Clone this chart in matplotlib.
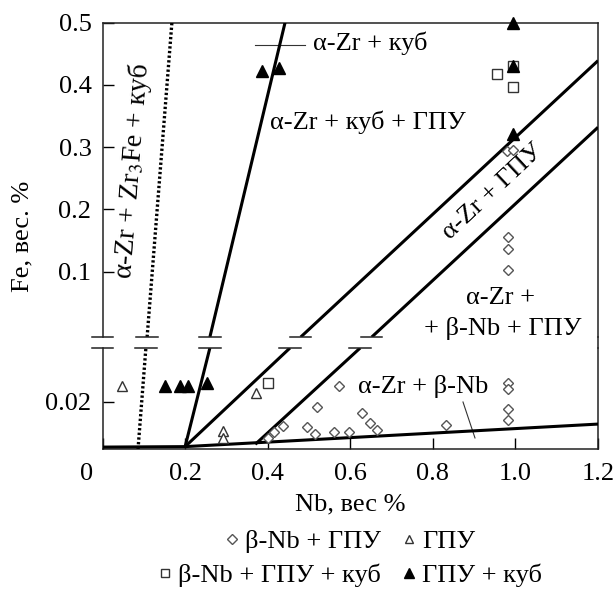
import matplotlib
matplotlib.use("Agg")
import matplotlib.pyplot as plt
from matplotlib.lines import Line2D
from matplotlib.transforms import ScaledTranslation

plt.rcParams['font.family'] = ['Liberation Serif', 'DejaVu Serif']
plt.rcParams['mathtext.fontset'] = 'stix'

# ---- data (Nb, Fe wt.%) ----
# upper part of the broken axis
tri_fill_up_x = [0.386, 0.427, 0.995, 0.995, 0.995]
tri_fill_up_y = [0.423, 0.427, 0.5, 0.431, 0.321]
sq_up_x = [0.955, 0.995, 0.995]
sq_up_y = [0.418, 0.431, 0.397]
dia_up_x = [0.98, 0.994, 0.982, 0.982, 0.982]
dia_up_y = [0.294, 0.295, 0.155, 0.137, 0.103]

# lower part
tri_open_lo_x = [0.047, 0.372, 0.292, 0.292]
tri_open_lo_y = [0.027, 0.024, 0.0077, 0.0047]
tri_fill_lo_x = [0.151, 0.188, 0.208, 0.254]
tri_fill_lo_y = [0.027, 0.027, 0.027, 0.028]
sq_lo_x = [0.401]
sq_lo_y = [0.028]
dia_lo_x = [0.4, 0.415, 0.437, 0.495, 0.514, 0.52, 0.56, 0.573, 0.597,
            0.628, 0.648, 0.664, 0.832, 0.982, 0.982, 0.982, 0.982]
dia_lo_y = [0.0047, 0.0072, 0.0098, 0.0094, 0.0064, 0.0179, 0.0072, 0.027,
            0.0072, 0.0153, 0.011, 0.0081, 0.0102, 0.0281, 0.0255, 0.017, 0.0123]

# phase boundaries
dotted_lo = ([0.086, 0.105], [0.0, 0.043])
line1_lo = ([0.2, 0.26], [0.001, 0.043])
line2_lo = ([0.2, 0.454], [0.001, 0.043])
line3_lo = ([0.37, 0.624], [0.002, 0.043])
solvus = ([0.0, 0.2, 1.2], [0.0008, 0.001, 0.0106])

dotted_up = ([0.108, 0.168], [-0.005, 0.5])
line1_up = ([0.26, 0.442], [-0.005, 0.5])
line2_up = ([0.48, 1.2], [-0.005, 0.439])
line3_up = ([0.652, 1.2], [-0.005, 0.332])

x_ticks = [0, 0.2, 0.4, 0.6, 0.8, 1.0, 1.2]
x_labels = ['0', '0.2', '0.4', '0.6', '0.8', '1.0', '1.2']
y_up_ticks = [0.1, 0.2, 0.3, 0.4, 0.5]
y_lo_ticks = [0.02]

FS = 19
fig = plt.figure(figsize=(6.15, 5.92), dpi=100)
L, R = 0.1667, 0.9724
ax_up = fig.add_axes([L, 0.4307, R - L, 0.9617 - 0.4307])
ax_lo = fig.add_axes([L, 0.2416, R - L, 0.4122 - 0.2416])

ax_up.set_xlim(0, 1.2)
ax_up.set_ylim(-0.005, 0.5)
ax_lo.set_xlim(0, 1.2)
ax_lo.set_ylim(0, 0.043)

for ax in (ax_up, ax_lo):
    for s in ax.spines.values():
        s.set_linewidth(1.1)
        s.set_color('#222222')
    ax.tick_params(direction='in', length=8, width=1.0, labelsize=FS)
    ax.tick_params(axis='y', pad=8)
    ax.tick_params(axis='x', pad=10)
ax_up.spines['bottom'].set_visible(False)
ax_lo.spines['top'].set_visible(False)
ax_up.set_xticks([])
ax_up.set_yticks(y_up_ticks)
ax_up.set_yticklabels([str(v) for v in y_up_ticks])
ax_lo.set_yticks(y_lo_ticks)
ax_lo.set_yticklabels(['0.02'])
ax_lo.set_xticks(x_ticks)
ax_lo.set_xticklabels(x_labels)
# the "0" sits a bit left of the origin in the original
lab0 = ax_lo.get_xticklabels()[0]
lab0.set_transform(lab0.get_transform() + ScaledTranslation(-0.16, 0, fig.dpi_scale_trans))

# right spine continues across the break
fig.add_artist(Line2D([R, R], [0.4122, 0.4307], color='#222222', lw=1.1))

# boundaries
LW = 2.2
for ax, segs, dots in ((ax_lo, [line1_lo, line2_lo, line3_lo, solvus], dotted_lo),
                       (ax_up, [line1_up, line2_up, line3_up], dotted_up)):
    for xs, ys in segs:
        ax.plot(xs, ys, color='black', lw=LW, solid_capstyle='butt', zorder=3)
    ax.plot(dots[0], dots[1], color='black', lw=2.4, dashes=(0.7, 0.7), zorder=3)

# break marks where the lines cross the gap
half = 0.026
for ax, segs, yb in ((ax_up, [([0, 0], [0, 0]), dotted_up, line1_up, line2_up, line3_up], -0.005),
                     (ax_lo, [([0, 0], [0, 0]), dotted_lo, line1_lo, line2_lo, line3_lo], 0.043)):
    for xs, ys in segs:
        xc = xs[0] if yb < 0 else xs[-1]
        ax.plot([xc - half, xc + half], [yb, yb], color='#222222', lw=1.1,
                clip_on=False, zorder=4)

# markers
dia = dict(marker='D', ms=5, mfc='white', mec='#555555', mew=1.0, ls='none', clip_on=False, zorder=5)
tro = dict(marker='^', ms=7, mfc='white', mec='#333333', mew=1.0, ls='none', clip_on=False, zorder=5)
sqo = dict(marker='s', ms=7, mfc='white', mec='#333333', mew=1.0, ls='none', clip_on=False, zorder=5)
trf = dict(marker='^', ms=8, mfc='black', mec='black', mew=1.0, ls='none', clip_on=False, zorder=6)

ax_up.plot(dia_up_x, dia_up_y, **dia)
ax_up.plot(sq_up_x, sq_up_y, **sqo)
ax_up.plot(tri_fill_up_x, tri_fill_up_y, **trf)
ax_lo.plot(dia_lo_x, dia_lo_y, **dia)
ax_lo.plot(tri_open_lo_x, tri_open_lo_y, **tro)
ax_lo.plot(sq_lo_x, sq_lo_y, **sqo)
ax_lo.plot(tri_fill_lo_x, tri_fill_lo_y, **trf)

# leader lines
ax_up.plot([0.37, 0.49], [0.4635, 0.4635], color='#333333', lw=0.8)
ax_lo.plot([0.873, 0.902], [0.02, 0.0047], color='#333333', lw=0.8)

# region labels
ax_up.text(0.51, 0.467, 'α-Zr + куб', fontsize=FS, ha='left', va='center')
ax_up.text(0.405, 0.34, 'α-Zr + куб + ГПУ', fontsize=FS, ha='left', va='center')
ax_up.text(0.072, 0.262, 'α-Zr + Zr$_3$Fe + куб', fontsize=20, ha='center', va='center',
           rotation=85.5, rotation_mode='anchor')
ax_up.text(0.946, 0.228, 'α-Zr + ГПУ', fontsize=FS, ha='center', va='center',
           rotation=43, rotation_mode='anchor')
ax_up.text(0.965, 0.057, 'α-Zr +', fontsize=FS, ha='center', va='center')
ax_up.text(0.968, 0.009, '+ β-Nb + ГПУ', fontsize=FS, ha='center', va='center')
ax_lo.text(0.777, 0.0264, 'α-Zr + β-Nb', fontsize=FS, ha='center', va='center')

# axis labels
fig.text(22 / 615, 1 - 236 / 592, 'Fe, вес. %', fontsize=FS, rotation=90, ha='center', va='center')
fig.text(350 / 615, 1 - 504 / 592, 'Nb, вес %', fontsize=FS, ha='center', va='center')

# legend rows
h_dia = Line2D([], [], **{k: v for k, v in dia.items() if k != 'clip_on'})
h_tro = Line2D([], [], **{k: v for k, v in tro.items() if k != 'clip_on'})
h_sqo = Line2D([], [], **{k: v for k, v in sqo.items() if k != 'clip_on'})
h_trf = Line2D([], [], **{k: v for k, v in trf.items() if k != 'clip_on'})
h_tro.set_markersize(6)
h_sqo.set_markersize(6)
h_trf.set_markersize(7)
leg_kw = dict(frameon=False, ncol=2, fontsize=FS, handlelength=0.5, handletextpad=0.25,
              columnspacing=0.8, borderpad=0, loc='center')
fig.legend([h_dia, h_tro], ['β-Nb + ГПУ', 'ГПУ'], bbox_to_anchor=(350 / 615, 1 - 541 / 592), **leg_kw)
fig.legend([h_sqo, h_trf], ['β-Nb + ГПУ + куб', 'ГПУ + куб'], bbox_to_anchor=(350 / 615, 1 - 575 / 592), **leg_kw)

fig.savefig('out.png', dpi=100)
